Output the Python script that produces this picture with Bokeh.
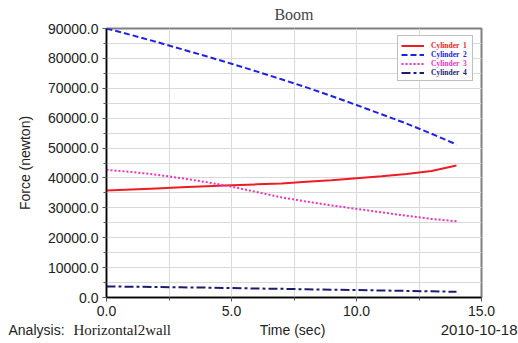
from bokeh.plotting import figure
from bokeh.layouts import column
from bokeh.models import (Range1d, SingleIntervalTicker, NumeralTickFormatter,
                          Legend, LegendItem, Label)
from bokeh.embed import file_html
from bokeh.resources import INLINE

# ---- data ----
time_sec = [0, 1, 2, 3, 4, 5, 6, 7, 8, 9, 10, 11, 12, 13, 14]
cyl1 = [35800, 36150, 36500, 36850, 37200, 37550, 37850, 38150, 38700, 39250,
        39900, 40550, 41300, 42350, 44150]
cyl2 = [90000, 87800, 85500, 83100, 80700, 78200, 75650, 73000, 70300, 67400,
        64400, 61300, 58200, 54800, 51200]
cyl3 = [42700, 42000, 41100, 39900, 38600, 37100, 35300, 33500, 32100, 30800,
        29650, 28500, 27350, 26300, 25500]
cyl4 = [3700, 3600, 3500, 3400, 3300, 3150, 3000, 2900, 2750, 2600,
        2500, 2350, 2200, 2050, 1900]
series_names = ["Cylinder  1", "Cylinder  2", "Cylinder  3", "Cylinder  4"]
series_colors = ["#ee1c24", "#2020e8", "#f030c0", "#1c1c70"]
series_dash = ["solid", "6 3", "2 2", "9 3 3 3"]

SANS = "Liberation Sans"
SERIF = "Liberation Serif"
FRAME_LEFT = 106

p = figure(width=518, height=322, output_backend="svg", toolbar_location=None,
           x_range=Range1d(0, 15), y_range=Range1d(0, 90000),
           min_border_left=FRAME_LEFT, min_border_right=37, min_border_top=27,
           min_border_bottom=25, background_fill_color="white",
           border_fill_color="white")

p.title.text = "Boom"
p.title.align = "center"
p.title.vertical_align = "middle"
p.title.text_font = SERIF
p.title.text_font_size = "16px"
p.title.text_font_style = "normal"
p.title.standoff = 9

p.outline_line_color = "#808080"
p.outline_line_width = 2

p.xaxis.ticker = SingleIntervalTicker(interval=5, num_minor_ticks=2)
p.yaxis.ticker = SingleIntervalTicker(interval=10000, num_minor_ticks=2)
p.xaxis.formatter = NumeralTickFormatter(format="0.0")
p.yaxis.formatter = NumeralTickFormatter(format="0.0")
for ax in (p.xaxis, p.yaxis):
    ax.axis_line_color = "black"
    ax.axis_line_width = 1.5
    ax.major_tick_line_color = "#555555"
    ax.minor_tick_line_color = "#555555"
    ax.major_tick_in = 0
    ax.major_tick_out = 4
    ax.minor_tick_in = 0
    ax.minor_tick_out = 3
    ax.major_label_text_font = SANS
    ax.major_label_text_font_size = "14px"
    ax.major_label_text_color = "#222222"
    ax.axis_label_text_font = SANS
    ax.axis_label_text_font_size = "14px"
    ax.axis_label_text_font_style = "normal"
    ax.axis_label_text_color = "#222222"
p.xaxis.major_label_standoff = 4
p.yaxis.major_label_standoff = 4
p.yaxis.axis_label = "Force (newton)"
p.yaxis.axis_label_standoff = 12

for g in (p.xgrid, p.ygrid):
    g.grid_line_color = "#d9d9d9"
    g.minor_grid_line_color = "#d9d9d9"
    g.grid_line_width = 1
    g.minor_grid_line_width = 1

renderers = []
for ys, c, d in zip([cyl1, cyl2, cyl3, cyl4], series_colors, series_dash):
    r = p.line(time_sec, ys, line_color=c, line_width=2, line_dash=d)
    renderers.append(r)

# legend: a bordered box, plus one coloured entry per series
PAD, ROW = 4, 9
FRAME_H = 270
LEG_X, LEG_TOP = 291, 10
common = dict(padding=PAD, spacing=0, glyph_width=23, glyph_height=ROW,
              label_height=ROW, label_standoff=7, margin=0,
              label_text_font=SERIF, label_text_font_style="bold",
              label_text_font_size="7.5px")
main_h = 2 * PAD + 4 * ROW
main = Legend(items=[LegendItem(label=n, renderers=[])
                     for n in series_names],
              location=(LEG_X, FRAME_H - LEG_TOP - main_h),
              border_line_color="#808080", border_line_width=1,
              background_fill_color="white", background_fill_alpha=1,
              label_text_alpha=0, **common)
p.add_layout(main, "center")
for i, (n, r, c) in enumerate(zip(series_names, renderers, series_colors)):
    h = 2 * PAD + ROW
    lg = Legend(items=[LegendItem(label=n, renderers=[r])],
                location=(LEG_X, FRAME_H - LEG_TOP - i * ROW - h),
                border_line_alpha=0, background_fill_alpha=0,
                label_text_color=c, **common)
    p.add_layout(lg, "center")

# footer strip with the bottom texts, its frame spanning the full width
foot = figure(width=518, height=21, output_backend="svg", toolbar_location=None,
              x_range=Range1d(0, 1), y_range=Range1d(0, 1),
              x_axis_type=None, y_axis_type=None,
              min_border=0, outline_line_color=None,
              background_fill_color="white", border_fill_color="white")
foot.frame_align = False
foot.xgrid.visible = False
foot.ygrid.visible = False
foot_y = 14
foot_texts = [
    ("Analysis:", 8, SANS, "14px", "left"),
    ("Horizontal2wall", 73, SERIF, "15px", "left"),
    ("Time (sec)", 292, SANS, "14px", "center"),
    ("2010-10-18", 517, SANS, "15px", "right"),
]
for txt, px, font, size, align in foot_texts:
    foot.add_layout(Label(x=px, y=foot_y, x_units="screen", y_units="screen",
                          text=txt, text_font=font, text_font_size=size,
                          text_color="#222222", text_baseline="middle",
                          text_align=align))

layout = column(p, foot, spacing=0)
open("out.html", "w").write(file_html(layout, INLINE))
